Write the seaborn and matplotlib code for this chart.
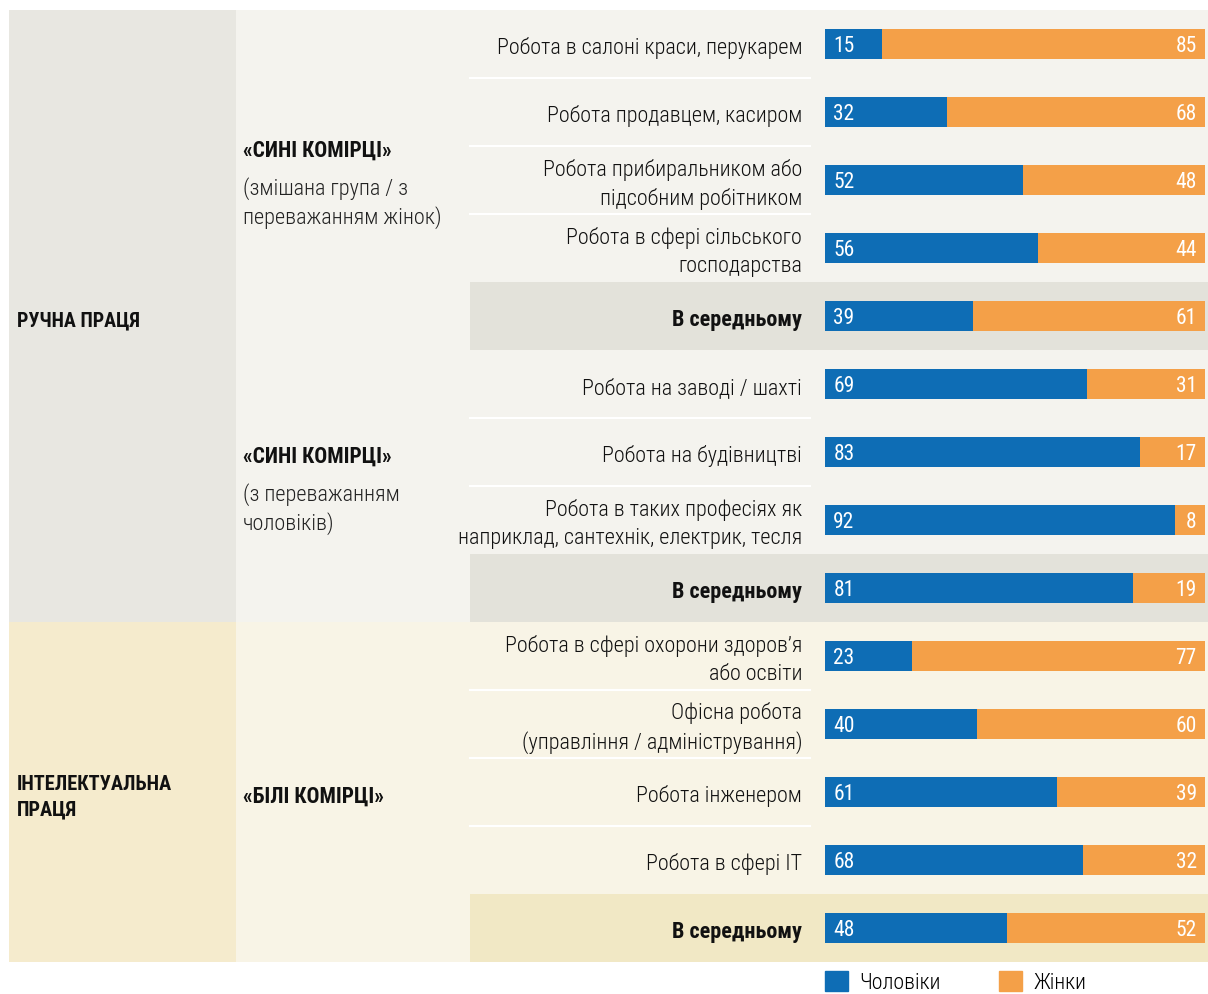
import matplotlib
matplotlib.use("Agg")
import matplotlib.pyplot as plt
import matplotlib.font_manager as fm
from matplotlib.patches import Rectangle, Patch
import seaborn as sns

# дані
row_labels = [
    "Робота в салоні краси, перукарем",
    "Робота продавцем, касиром",
    "Робота прибиральником або\nпідсобним робітником",
    "Робота в сфері сільського\nгосподарства",
    "В середньому",
    "Робота на заводі / шахті",
    "Робота на будівництві",
    "Робота в таких професіях як\nнаприклад, сантехнік, електрик, тесля",
    "В середньому",
    "Робота в сфері охорони здоров’я\nабо освіти",
    "Офісна робота\n(управління / адміністрування)",
    "Робота інженером",
    "Робота в сфері ІТ",
    "В середньому",
]
men = [15, 32, 52, 56, 39, 69, 83, 92, 81, 23, 40, 61, 68, 48]
women = [85, 68, 48, 44, 61, 31, 17, 8, 19, 77, 60, 39, 32, 52]
is_avg = [False, False, False, False, True, False, False, False, True, False, False, False, False, True]

sections = ["РУЧНА ПРАЦЯ", "ІНТЕЛЕКТУАЛЬНА\nПРАЦЯ"]
groups = [
    ("«СИНІ КОМІРЦІ»", "(змішана група / з\nпереважанням жінок)"),
    ("«СИНІ КОМІРЦІ»", "(з переважанням\nчоловіків)"),
    ("«БІЛІ КОМІРЦІ»", ""),
]
legend_labels = ["Чоловіки", "Жінки"]

blue = "#0e6db5"
orange = "#f4a048"

# шрифт
have = {f.name for f in fm.fontManager.ttflist}
font = next((f for f in ["Roboto Condensed", "Fira Sans Condensed", "PT Sans Narrow",
                         "Sofia Sans Condensed", "Roboto"] if f in have), "DejaVu Sans")
plt.rcParams["font.family"] = [font, "DejaVu Sans"]

W, H = 1208, 994
fig = plt.figure(figsize=(W / 100, H / 100), dpi=100, facecolor="white")

# фон (у пікселях)
bg = fig.add_axes([0, 0, 1, 1], zorder=0)
bg.set_xlim(0, W)
bg.set_ylim(H, 0)
bg.axis("off")

top, row_h = 10, 68
split = top + row_h * 9
bottom = top + row_h * 14
bg.add_patch(Rectangle((9, top), 227, split - top, color="#e8e7e1", lw=0))
bg.add_patch(Rectangle((236, top), W - 236, split - top, color="#f4f3ee", lw=0))
bg.add_patch(Rectangle((9, split), 227, bottom - split, color="#f5ebcd", lw=0))
bg.add_patch(Rectangle((236, split), W - 236, bottom - split, color="#f8f4e6", lw=0))
for i, a in enumerate(is_avg):
    y0 = top + row_h * i
    if a:
        bg.add_patch(Rectangle((470, y0), W - 470, row_h,
                               color="#e3e2da" if i < 9 else "#f1e8c5", lw=0))
    elif i > 0 and not is_avg[i - 1]:
        bg.plot([470, 810], [y0, y0], color="white", lw=1.5)

bg.text(17, (top + split) / 2 + 5, sections[0], fontsize=14.4, fontweight="bold",
        va="center", color="#111111")
bg.text(17, (split + bottom) / 2 + 5, sections[1], fontsize=14.7, fontweight="bold",
        va="center", color="#111111", linespacing=1.45)

group_rows = [(0, 5), (5, 9), (9, 14)]
for (title, desc), (r0, r1) in zip(groups, group_rows):
    yc = top + row_h * (r0 + r1) / 2
    if desc:
        bg.text(243, yc - 29, title, fontsize=15.5, fontweight="bold", va="center", color="#111111")
        bg.text(243, yc + 23, desc, fontsize=16, fontweight="light", va="center",
                color="#222222", linespacing=1.35)
    else:
        bg.text(243, yc + 5, title, fontsize=15.5, fontweight="bold", va="center", color="#111111")

# стовпчики
ax = fig.add_axes([825 / W, (H - bottom) / H, 380 / W, (bottom - top) / H], zorder=2)
ax.patch.set_visible(False)
rows = list(range(len(men)))
totals = [m + w for m, w in zip(men, women)]
sns.barplot(x=totals, y=rows, orient="h", color=orange, saturation=1, width=0.44, ax=ax)
sns.barplot(x=men, y=rows, orient="h", color=blue, saturation=1, width=0.44, ax=ax)
ax.set_xlim(0, 100)
ax.set_ylim(len(men) - 0.5, -0.5)
ax.set_xticks([])
ax.set_yticks([])
ax.set_xlabel("")
ax.set_ylabel("")
for s in ax.spines.values():
    s.set_visible(False)

for i, (lab, a) in enumerate(zip(row_labels, is_avg)):
    ax.annotate(lab, (0, i), xytext=(-16.5, -3), textcoords="offset points",
                ha="right", va="center", fontsize=15.9, linespacing=1.43,
                color="#111111", fontweight="bold" if a else "light",
                annotation_clip=False)

for i, (m, w) in enumerate(zip(men, women)):
    ax.annotate(str(m), (0, i), xytext=(6, -1.8), textcoords="offset points",
                ha="left", va="center", color="white", fontsize=15.5)
    ax.annotate(str(w), (m + w, i), xytext=(-6, -1.8), textcoords="offset points",
                ha="right", va="center", color="white", fontsize=15.5)

handles = [Patch(color=blue), Patch(color=orange)]
fig.legend(handles, legend_labels, loc="upper left", bbox_to_anchor=(825 / W, 1 - 971 / H),
           ncol=2, frameon=False, borderpad=0, borderaxespad=0,
           handlelength=1.05, handleheight=1.05, handletextpad=0.5, columnspacing=2.69,
           prop={"weight": "light", "size": 15.8})

fig.savefig("out.png", dpi=100, facecolor="white")
